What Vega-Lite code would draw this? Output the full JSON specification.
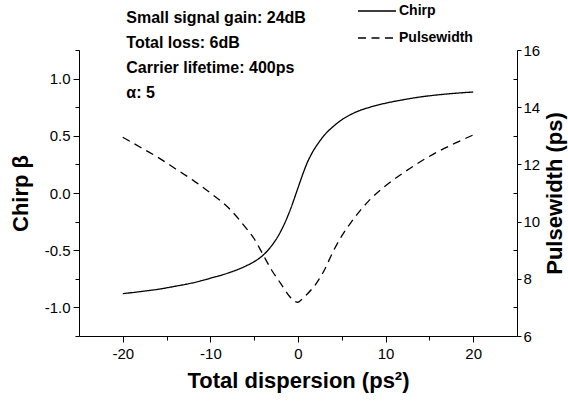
{
  "$schema": "https://vega.github.io/schema/vega-lite/v6.json",
  "width": 438,
  "height": 286,
  "autosize": "none",
  "padding": {"left": 79, "top": 50, "right": 51, "bottom": 66},
  "background": "white",
  "config": {
    "view": {"stroke": null},
    "font": "Liberation Sans",
    "axis": {
      "grid": false,
      "domainColor": "black",
      "domainWidth": 1,
      "tickColor": "black",
      "tickWidth": 1,
      "labelColor": "black",
      "labelFont": "Liberation Sans",
      "labelFontSize": 15,
      "labelOverlap": false,
      "titleColor": "black",
      "titleFont": "Liberation Sans",
      "titleFontSize": 22,
      "titleFontWeight": "bold"
    }
  },
  "datasets": {
    "chirp": [
      {"x": -20, "v": -0.88, "series": "Chirp"},
      {"x": -18, "v": -0.862, "series": "Chirp"},
      {"x": -16, "v": -0.842, "series": "Chirp"},
      {"x": -14, "v": -0.815, "series": "Chirp"},
      {"x": -12, "v": -0.785, "series": "Chirp"},
      {"x": -10, "v": -0.745, "series": "Chirp"},
      {"x": -8, "v": -0.70, "series": "Chirp"},
      {"x": -6, "v": -0.64, "series": "Chirp"},
      {"x": -5, "v": -0.60, "series": "Chirp"},
      {"x": -4, "v": -0.545, "series": "Chirp"},
      {"x": -3, "v": -0.46, "series": "Chirp"},
      {"x": -2, "v": -0.34, "series": "Chirp"},
      {"x": -1, "v": -0.17, "series": "Chirp"},
      {"x": 0, "v": 0.045, "series": "Chirp"},
      {"x": 0.5, "v": 0.155, "series": "Chirp"},
      {"x": 1, "v": 0.255, "series": "Chirp"},
      {"x": 1.5, "v": 0.335, "series": "Chirp"},
      {"x": 2, "v": 0.40, "series": "Chirp"},
      {"x": 2.5, "v": 0.455, "series": "Chirp"},
      {"x": 3, "v": 0.505, "series": "Chirp"},
      {"x": 4, "v": 0.58, "series": "Chirp"},
      {"x": 5, "v": 0.64, "series": "Chirp"},
      {"x": 6, "v": 0.685, "series": "Chirp"},
      {"x": 7, "v": 0.72, "series": "Chirp"},
      {"x": 8, "v": 0.745, "series": "Chirp"},
      {"x": 10, "v": 0.785, "series": "Chirp"},
      {"x": 12, "v": 0.815, "series": "Chirp"},
      {"x": 14, "v": 0.84, "series": "Chirp"},
      {"x": 16, "v": 0.858, "series": "Chirp"},
      {"x": 18, "v": 0.872, "series": "Chirp"},
      {"x": 20, "v": 0.883, "series": "Chirp"}
    ],
    "pw": [
      {"x": -20, "w": 12.95, "series": "Pulsewidth"},
      {"x": -18, "w": 12.6, "series": "Pulsewidth"},
      {"x": -16, "w": 12.25, "series": "Pulsewidth"},
      {"x": -14, "w": 11.85, "series": "Pulsewidth"},
      {"x": -12, "w": 11.45, "series": "Pulsewidth"},
      {"x": -10, "w": 11.0, "series": "Pulsewidth"},
      {"x": -8, "w": 10.5, "series": "Pulsewidth"},
      {"x": -6, "w": 9.8, "series": "Pulsewidth"},
      {"x": -5, "w": 9.4, "series": "Pulsewidth"},
      {"x": -4, "w": 8.85, "series": "Pulsewidth"},
      {"x": -3, "w": 8.3, "series": "Pulsewidth"},
      {"x": -2, "w": 7.85, "series": "Pulsewidth"},
      {"x": -1, "w": 7.4, "series": "Pulsewidth"},
      {"x": -0.3, "w": 7.2, "series": "Pulsewidth"},
      {"x": 0, "w": 7.18, "series": "Pulsewidth"},
      {"x": 0.5, "w": 7.3, "series": "Pulsewidth"},
      {"x": 1, "w": 7.45, "series": "Pulsewidth"},
      {"x": 2, "w": 7.8, "series": "Pulsewidth"},
      {"x": 3, "w": 8.3, "series": "Pulsewidth"},
      {"x": 4, "w": 8.95, "series": "Pulsewidth"},
      {"x": 5, "w": 9.5, "series": "Pulsewidth"},
      {"x": 6, "w": 9.95, "series": "Pulsewidth"},
      {"x": 7, "w": 10.35, "series": "Pulsewidth"},
      {"x": 8, "w": 10.7, "series": "Pulsewidth"},
      {"x": 10, "w": 11.25, "series": "Pulsewidth"},
      {"x": 12, "w": 11.7, "series": "Pulsewidth"},
      {"x": 14, "w": 12.1, "series": "Pulsewidth"},
      {"x": 16, "w": 12.45, "series": "Pulsewidth"},
      {"x": 18, "w": 12.75, "series": "Pulsewidth"},
      {"x": 20, "w": 13.03, "series": "Pulsewidth"}
    ],
    "notes": [
      {"note": "Small signal gain: 24dB\nTotal loss: 6dB\nCarrier lifetime: 400ps\nα: 5"}
    ]
  },
  "layer": [
    {
      "data": {"name": "chirp"},
      "mark": {"type": "line", "color": "black", "strokeWidth": 1.3, "interpolate": "monotone"},
      "encoding": {
        "x": {
          "field": "x", "type": "quantitative",
          "scale": {"domain": [-25, 25], "nice": false, "zero": false},
          "axis": {
            "title": "Total dispersion (ps²)",
            "values": [-20, -15, -10, -5, 0, 5, 10, 15, 20],
            "labelExpr": "datum.value % 10 === 0 ? (datum.value < 0 ? '-' : '') + abs(datum.value) : ''",
            "tickSize": {"condition": {"test": "datum.value % 10 === 0", "value": 6}, "value": 4},
            "labelPadding": 4,
            "titlePadding": 9
          }
        },
        "y": {
          "field": "v", "type": "quantitative",
          "scale": {"domain": [-1.25, 1.25], "nice": false, "zero": false},
          "axis": {
            "title": "Chirp β",
            "orient": "left",
            "values": [-1.25, -1, -0.75, -0.5, -0.25, 0, 0.25, 0.5, 0.75, 1, 1.25],
            "labelExpr": "(datum.value * 4) % 2 === 0 ? (datum.value < 0 ? '-' : '') + format(abs(datum.value), '.1f') : ''",
            "tickSize": {"condition": {"test": "(datum.value * 4) % 2 === 0", "value": 6}, "value": 4},
            "labelPadding": 3,
            "titlePadding": 12
          }
        },
        "strokeDash": {
          "field": "series", "type": "nominal",
          "scale": {"domain": ["Chirp", "Pulsewidth"], "range": [[1, 0], [8, 5.5]]},
          "legend": {
            "title": null,
            "orient": "none",
            "legendX": 278,
            "legendY": -59,
            "padding": 0,
            "symbolType": "stroke",
            "symbolSize": 1444,
            "symbolStrokeWidth": 1.3,
            "symbolStrokeColor": "black",
            "labelFont": "Liberation Sans",
            "labelFontSize": 14,
            "labelFontWeight": "bold",
            "labelColor": "black",
            "labelOffset": 2,
            "rowPadding": -15
          }
        }
      }
    },
    {
      "data": {"name": "notes"},
      "mark": {"type": "text", "align": "left", "baseline": "top", "lineBreak": "\n", "lineHeight": 25, "fontSize": 16, "fontWeight": "bold", "font": "Liberation Sans", "color": "black"},
      "encoding": {
        "x": {
          "datum": -19.6, "type": "quantitative",
          "axis": {
            "title": "Total dispersion (ps²)",
            "values": [-20, -15, -10, -5, 0, 5, 10, 15, 20],
            "labelExpr": "datum.value % 10 === 0 ? (datum.value < 0 ? '-' : '') + abs(datum.value) : ''",
            "tickSize": {"condition": {"test": "datum.value % 10 === 0", "value": 6}, "value": 4},
            "labelPadding": 4,
            "titlePadding": 9
          }
        },
        "y": {"datum": 1.6, "type": "quantitative", "scale": {"domain": [-1.25, 1.25], "nice": false, "zero": false}, "axis": null},
        "text": {"field": "note"}
      }
    },
    {
      "data": {"name": "pw"},
      "mark": {"type": "line", "color": "black", "strokeWidth": 1.3, "interpolate": "monotone"},
      "encoding": {
        "x": {"field": "x", "type": "quantitative"},
        "y": {
          "field": "w", "type": "quantitative",
          "scale": {"domain": [6, 16], "nice": false, "zero": false},
          "axis": {
            "title": "Pulsewidth (ps)",
            "orient": "right",
            "values": [6, 7, 8, 9, 10, 11, 12, 13, 14, 15, 16],
            "labelExpr": "datum.value % 2 === 0 ? datum.value : ''",
            "tickSize": {"condition": {"test": "datum.value % 2 === 0", "value": 4}, "value": -4},
            "labelPadding": 2,
            "titleAngle": 270,
            "titleBaseline": "top",
            "titlePadding": 5
          }
        },
        "strokeDash": {"field": "series", "type": "nominal"}
      }
    }
  ],
  "resolve": {"scale": {"y": "independent"}}
}
